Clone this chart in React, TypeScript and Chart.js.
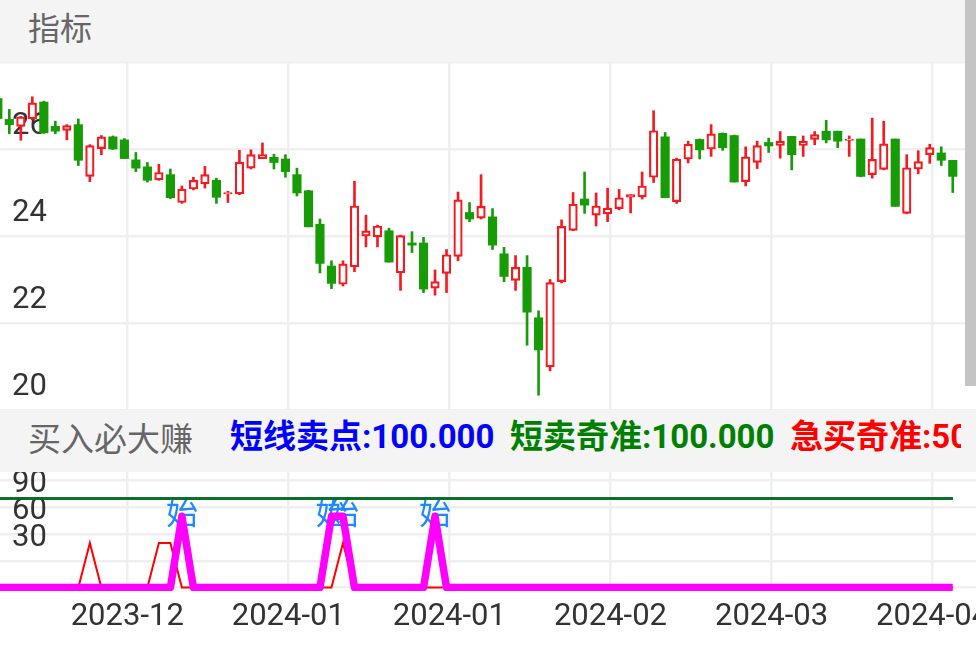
import React, { useEffect, useRef } from 'react';
import { Chart, registerables } from 'chart.js';

Chart.register(...registerables);

// Daily OHLC prices, one entry per trading bar
const opens = [
  27.16, 26.68, 26.52, 26.69, 27.08, 26.52, 26.43, 26.56, 25.37, 26.01,
  26.28, 26.21, 25.75, 25.59, 25.29, 25.41, 24.77, 25.08, 25.2, 25.28,
  24.97, 24.97, 25.56, 25.78, 25.81, 25.77, 25.41, 25.04, 24.27, 23.31,
  22.89, 23.29, 24.0, 23.98, 24.12, 23.15, 23.84, 23.84, 22.8, 23.14,
  23.53, 24.54, 24.41, 24.44, 23.59, 22.98, 23.28, 22.12, 20.99, 22.95,
  24.13, 24.85, 24.48, 24.51, 24.63, 24.89, 24.9, 25.35, 26.28, 24.79,
  25.77, 26.22, 26.0, 26.36, 26.31, 25.25, 25.69, 26.15, 26.08, 26.29,
  26.08, 26.22, 26.41, 26.41, 26.2, 26.23, 25.41, 25.53, 26.23, 24.52,
  25.54, 25.87, 25.91, 25.74,
];
const highs = [
  27.18, 26.91, 26.75, 27.2, 27.1, 26.64, 26.56, 26.69, 26.1, 26.31,
  26.3, 26.24, 25.92, 25.69, 25.65, 25.54, 25.15, 25.35, 25.6, 25.33,
  25.03, 25.97, 25.98, 26.14, 25.88, 25.87, 25.56, 25.05, 24.39, 23.43,
  23.43, 25.26, 24.48, 24.25, 24.18, 24.02, 24.1, 23.97, 23.22, 23.69,
  25.01, 24.77, 25.41, 24.63, 23.74, 23.55, 23.55, 22.28, 23.0, 24.37,
  25.0, 25.47, 24.99, 25.1, 25.07, 24.95, 25.47, 26.88, 26.38, 25.79,
  26.18, 26.23, 26.56, 26.37, 26.32, 26.05, 26.18, 26.25, 26.4, 26.29,
  26.3, 26.4, 26.66, 26.41, 26.3, 26.23, 26.71, 26.64, 26.23, 25.87,
  25.96, 26.11, 26.05, 25.74,
];
const lows = [
  26.66, 26.35, 26.2, 26.67, 26.36, 26.35, 26.21, 25.62, 25.25, 25.87,
  25.99, 25.78, 25.48, 25.24, 25.28, 24.86, 24.75, 25.06, 25.1, 24.75,
  24.77, 24.95, 25.54, 25.78, 25.54, 25.35, 24.92, 24.21, 23.15, 22.79,
  22.85, 23.18, 23.75, 23.75, 23.4, 22.75, 23.62, 22.7, 22.64, 22.7,
  23.43, 24.33, 24.39, 23.69, 22.95, 22.75, 21.49, 20.34, 20.9, 22.92,
  24.12, 24.52, 24.23, 24.33, 24.6, 24.53, 24.85, 25.23, 24.88, 24.75,
  25.68, 25.77, 25.83, 25.97, 25.24, 25.15, 25.55, 25.92, 25.79, 25.52,
  25.83, 26.1, 26.14, 26.03, 25.83, 25.36, 25.33, 25.52, 24.68, 24.51,
  25.43, 25.67, 25.62, 25.0,
];
const closes = [
  26.7, 26.56, 26.74, 27.06, 26.37, 26.41, 26.54, 25.74, 26.08, 26.28,
  26.0, 25.78, 25.56, 25.28, 25.46, 24.88, 25.08, 25.28, 25.41, 24.89,
  25.0, 25.7, 25.87, 25.87, 25.69, 25.48, 24.99, 24.21, 23.37, 22.91,
  23.36, 24.69, 24.12, 24.23, 23.4, 24.01, 23.79, 22.78, 22.95, 23.57,
  24.83, 24.39, 24.68, 23.79, 23.07, 23.28, 22.25, 21.38, 22.93, 24.22,
  24.73, 24.71, 24.69, 24.64, 24.88, 24.95, 25.15, 26.42, 24.88, 25.77,
  26.11, 25.98, 26.35, 26.03, 25.24, 25.82, 26.08, 26.07, 26.18, 25.87,
  26.18, 26.33, 26.21, 26.18, 26.23, 25.37, 25.76, 26.12, 24.68, 25.57,
  25.71, 26.03, 25.74, 25.37,
];

// Month labels on the time axis and the bar each one sits on
const monthLabels = ['2023-12', '2024-01', '2024-01', '2024-02', '2024-03', '2024-04'];
const monthBarIndex = [11, 25, 39, 53, 67, 81];

// Price axis
const priceTicks = [20, 22, 24, 26, 28];
const priceTickLabels = ['20', '22', '24', '26', ''];

// Indicator axis
const signalTicks = [0, 30, 60, 90, 120];
const signalTickLabels = ['', '30', '60', '90', ''];

// 买入必大赚 indicator outputs
const shortSellPoint = [
  100, 100, 100, 100, 100, 100, 100, 100, 100, 100,
  100, 100, 100, 100, 100, 100, 100, 100, 100, 100,
  100, 100, 100, 100, 100, 100, 100, 100, 100, 100,
  100, 100, 100, 100, 100, 100, 100, 100, 100, 100,
  100, 100, 100, 100, 100, 100, 100, 100, 100, 100,
  100, 100, 100, 100, 100, 100, 100, 100, 100, 100,
  100, 100, 100, 100, 100, 100, 100, 100, 100, 100,
  100, 100, 100, 100, 100, 100, 100, 100, 100, 100,
  100, 100, 100, 100,
];
const shortSellPrecise = [
  100, 100, 100, 100, 100, 100, 100, 100, 100, 100,
  100, 100, 100, 100, 100, 100, 100, 100, 100, 100,
  100, 100, 100, 100, 100, 100, 100, 100, 100, 100,
  100, 100, 100, 100, 100, 100, 100, 100, 100, 100,
  100, 100, 100, 100, 100, 100, 100, 100, 100, 100,
  100, 100, 100, 100, 100, 100, 100, 100, 100, 100,
  100, 100, 100, 100, 100, 100, 100, 100, 100, 100,
  100, 100, 100, 100, 100, 100, 100, 100, 100, 100,
  100, 100, 100, 100,
];
const quickBuyPrecise = [
  0, 0, 0, 0, 0, 0, 0, 0, 50, 0,
  0, 0, 0, 0, 50, 50, 0, 0, 0, 0,
  0, 0, 0, 0, 0, 0, 0, 0, 0, 0,
  50, 0, 0, 0, 0, 0, 0, 0, 0, 0,
  0, 0, 0, 0, 0, 0, 0, 0, 0, 0,
  0, 0, 0, 0, 0, 0, 0, 0, 0, 0,
  0, 0, 0, 0, 0, 0, 0, 0, 0, 0,
  0, 0, 0, 0, 0, 0, 0, 0, 0, 0,
  0, 0, 0, 0,
];
const startSignal = [
  0, 0, 0, 0, 0, 0, 0, 0, 0, 0,
  0, 0, 0, 0, 0, 0, 80, 0, 0, 0,
  0, 0, 0, 0, 0, 0, 0, 0, 0, 80,
  80, 0, 0, 0, 0, 0, 0, 0, 80, 0,
  0, 0, 0, 0, 0, 0, 0, 0, 0, 0,
  0, 0, 0, 0, 0, 0, 0, 0, 0, 0,
  0, 0, 0, 0, 0, 0, 0, 0, 0, 0,
  0, 0, 0, 0, 0, 0, 0, 0, 0, 0,
  0, 0, 0, 0,
];

// Visible bar window (bar 0 is partly scrolled off the left edge)
const X_MIN = 0.19;
const X_MAX = 85.02;
const MONTH_LINE_SHIFT = 0.25;

const UP = '#f41a1f';
const DOWN = '#179b06';
const GRID = '#efeff1';
const AXIS_TEXT = '#333333';
const AXIS_FONT = '31px Roboto';

const isUp = (i: number) => closes[i] >= opens[i];

const monthTicks = (scale: any) => {
  scale.ticks = monthBarIndex.map((v) => ({ value: v + MONTH_LINE_SHIFT }));
};

const yLabelPlugin = (labels: string[]) => ({
  id: 'insideYLabels',
  beforeDatasetsDraw(chart: any) {
    const { ctx } = chart;
    const y = chart.scales.y;
    ctx.save();
    ctx.font = AXIS_FONT;
    ctx.fillStyle = AXIS_TEXT;
    ctx.textAlign = 'left';
    ctx.textBaseline = 'middle';
    y.ticks.forEach((t: any, k: number) => {
      const text = labels[k];
      if (text) ctx.fillText(text, 12, y.getPixelForValue(t.value) - 23);
    });
    ctx.restore();
  },
});

const monthLabelPlugin = {
  id: 'monthLabels',
  afterDraw(chart: any) {
    const { ctx } = chart;
    const x = chart.scales.x;
    ctx.save();
    ctx.font = AXIS_FONT;
    ctx.fillStyle = AXIS_TEXT;
    ctx.textAlign = 'center';
    ctx.textBaseline = 'middle';
    x.ticks.forEach((t: any, k: number) => {
      ctx.fillText(monthLabels[k], x.getPixelForValue(t.value), chart.chartArea.bottom + 26);
    });
    ctx.restore();
  },
};

const startTextPlugin = {
  id: 'startText',
  beforeDatasetsDraw(chart: any) {
    const { ctx } = chart;
    const meta = chart.getDatasetMeta(0);
    ctx.save();
    ctx.font = '32px "Noto Sans CJK SC"';
    ctx.fillStyle = '#1e88ff';
    ctx.textAlign = 'center';
    ctx.textBaseline = 'middle';
    startSignal.forEach((v, i) => {
      if (v > 0) {
        const pt = meta.data[i];
        ctx.fillText('始', pt.x, pt.y - 4);
      }
    });
    ctx.restore();
  },
};

export default function App() {
  const priceRef = useRef<HTMLCanvasElement>(null);
  const signalRef = useRef<HTMLCanvasElement>(null);

  useEffect(() => {
    const bodies = opens.map((o, i) => ({ x: i, y: [Math.min(o, closes[i]), Math.max(o, closes[i])] }));
    const wicks = lows.map((l, i) => ({ x: i, y: [l, highs[i]] }));

    const gridScale = {
      offset: false,
      grid: { color: GRID, lineWidth: 2.5, drawTicks: false, offset: false },
      border: { display: false },
      ticks: { display: false },
    };

    const priceChart = new Chart(priceRef.current as HTMLCanvasElement, {
      type: 'bar',
      data: {
        datasets: [
          {
            data: bodies as any,
            grouped: false,
            barThickness: 8.5,
            borderSkipped: false,
            backgroundColor: (c: any) => (isUp(c.dataIndex) ? '#ffffff' : DOWN),
            borderColor: (c: any) => (isUp(c.dataIndex) ? UP : DOWN),
            borderWidth: (c: any) => (isUp(c.dataIndex) ? 2.2 : 0),
          } as any,
          {
            data: wicks as any,
            grouped: false,
            barThickness: 2,
            borderWidth: 0,
            backgroundColor: (c: any) => (isUp(c.dataIndex) ? UP : DOWN),
          } as any,
        ],
      },
      options: {
        animation: false,
        responsive: false,
        events: [],
        layout: { padding: 0, autoPadding: false },
        plugins: { legend: { display: false }, tooltip: { enabled: false } },
        scales: {
          x: { type: 'linear', min: X_MIN, max: X_MAX, ...gridScale, afterBuildTicks: monthTicks } as any,
          y: {
            type: 'linear',
            min: 20,
            max: 28,
            ...gridScale,
            afterBuildTicks: (s: any) => {
              s.ticks = priceTicks.map((v) => ({ value: v }));
            },
          } as any,
        },
      },
      plugins: [yLabelPlugin(priceTickLabels)],
    });

    const series = (vals: number[]) => vals.map((v, i) => ({ x: i, y: v }));

    const signalChart = new Chart(signalRef.current as HTMLCanvasElement, {
      type: 'line',
      data: {
        datasets: [
          {
            data: series(startSignal),
            borderColor: '#ff00ff',
            borderWidth: 7.5,
            borderJoinStyle: 'round',
            pointRadius: 0,
            tension: 0,
          },
          { data: series(quickBuyPrecise), borderColor: '#ff0000', borderWidth: 2, pointRadius: 0, tension: 0 },
          { data: series(shortSellPrecise), borderColor: '#007a00', borderWidth: 2.5, pointRadius: 0, tension: 0 },
          { data: series(shortSellPoint), borderColor: '#0000ff', borderWidth: 2.5, pointRadius: 0, tension: 0 },
        ] as any,
      },
      options: {
        animation: false,
        responsive: false,
        events: [],
        layout: { padding: { left: 0, right: 0, top: 0, bottom: 58 }, autoPadding: false },
        plugins: { legend: { display: false }, tooltip: { enabled: false } },
        scales: {
          x: { type: 'linear', min: X_MIN, max: X_MAX, ...gridScale, afterBuildTicks: monthTicks } as any,
          y: {
            type: 'linear',
            min: -3.9,
            max: 129.8,
            ...gridScale,
            afterBuildTicks: (s: any) => {
              s.ticks = signalTicks.map((v) => ({ value: v }));
            },
          } as any,
        },
      },
      plugins: [yLabelPlugin(signalTickLabels), monthLabelPlugin, startTextPlugin],
    });

    return () => {
      priceChart.destroy();
      signalChart.destroy();
    };
  }, []);

  const last = shortSellPoint.length - 1;
  const legendItems = [
    { text: `短线卖点:${shortSellPoint[last].toFixed(3)}`, color: '#0000ff', left: 230 },
    { text: `短卖奇准:${shortSellPrecise[last].toFixed(3)}`, color: '#008000', left: 510 },
    { text: `急买奇准:${Math.max(...quickBuyPrecise).toFixed(3)}`, color: '#ff0000', left: 790 },
  ];

  const font = 'Roboto, "Noto Sans CJK SC", sans-serif';

  return (
    <div
      style={{
        position: 'absolute',
        left: 0,
        top: 0,
        width: 976,
        height: 649,
        overflow: 'hidden',
        background: '#ffffff',
        fontFamily: font,
      }}
    >
      <div
        style={{
          position: 'absolute',
          left: 0,
          top: 0,
          width: 976,
          height: 62,
          background: '#f4f4f4',
        }}
      >
        <span
          style={{
            position: 'absolute',
            left: 28,
            top: 0,
            lineHeight: '53px',
            fontSize: 32,
            color: '#666666',
            fontFamily: '"Noto Sans CJK SC", sans-serif',
          }}
        >
          指标
        </span>
      </div>
      <canvas
        ref={priceRef}
        width={976}
        height={348}
        style={{ position: 'absolute', left: 0, top: 62, width: 976, height: 348 }}
      />
      <div
        style={{
          position: 'absolute',
          left: 0,
          top: 410,
          width: 976,
          height: 62,
          background: '#f4f4f4',
        }}
      >
        <div
          style={{
            position: 'absolute',
            left: 0,
            top: 0,
            width: 961,
            height: 62,
            overflow: 'hidden',
            whiteSpace: 'nowrap',
          }}
        >
          <span
            style={{
              position: 'absolute',
              left: 28,
              top: 0,
              lineHeight: '54px',
              fontSize: 33,
              color: '#666666',
              fontFamily: '"Noto Sans CJK SC", sans-serif',
            }}
          >
            买入必大赚
          </span>
          {legendItems.map((it) => (
            <span
              key={it.left}
              style={{
                position: 'absolute',
                left: it.left,
                top: 0,
                lineHeight: '54px',
                fontSize: 33,
                fontWeight: 'bold',
                color: it.color,
              }}
            >
              {it.text}
            </span>
          ))}
        </div>
      </div>
      <canvas
        ref={signalRef}
        width={976}
        height={177}
        style={{ position: 'absolute', left: 0, top: 472, width: 976, height: 177 }}
      />
      <div
        style={{
          position: 'absolute',
          left: 965,
          top: 0,
          width: 11,
          height: 386,
          background: '#c4c4c4',
        }}
      />
    </div>
  );
}
